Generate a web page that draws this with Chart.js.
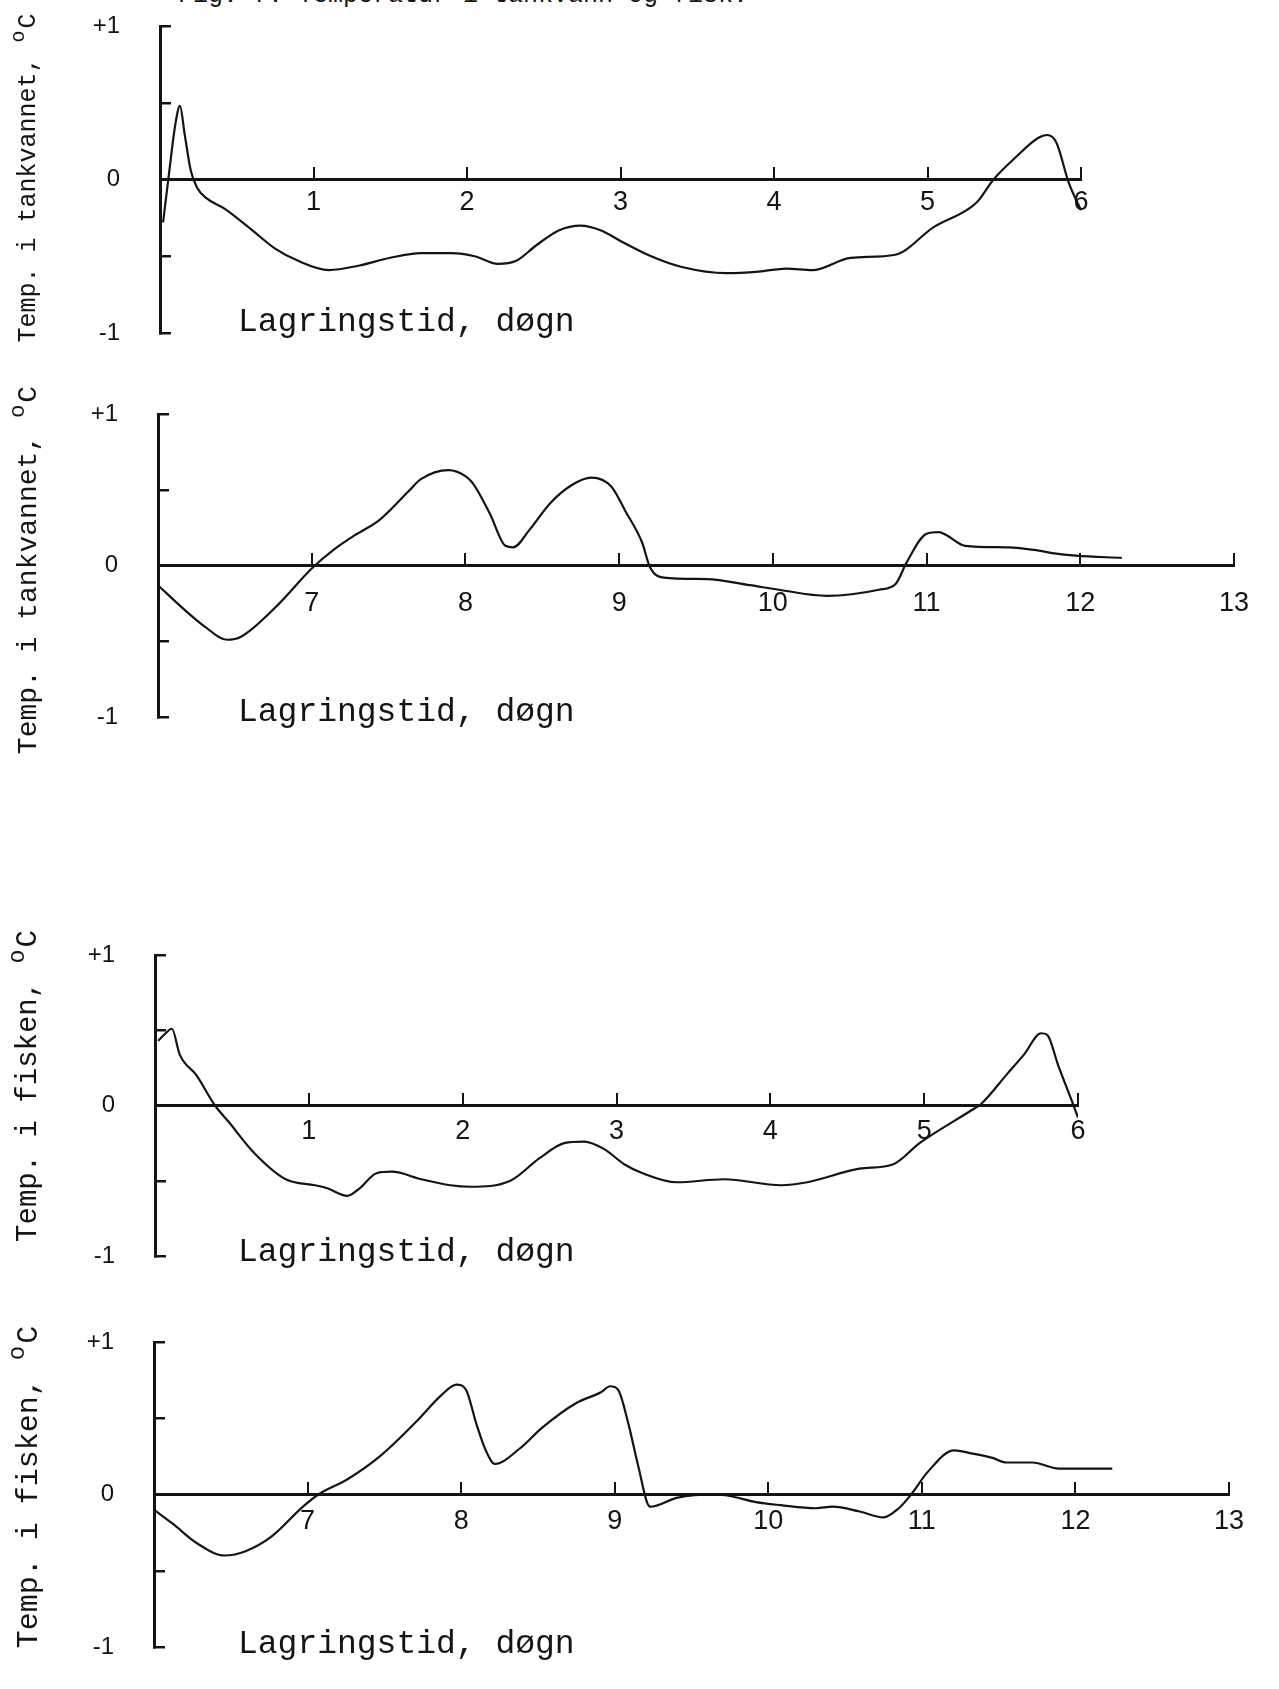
<!DOCTYPE html>
<html>
<head>
<meta charset="utf-8">
<title>Temperatur i tankvann og fisk</title>
<script src="https://cdn.jsdelivr.net/npm/chart.js@4/dist/chart.umd.min.js"></script>
<style>
  html, body { margin: 0; padding: 0; background: #fff; }
  #page { position: relative; width: 1279px; height: 1689px; overflow: hidden; background: #fff; }
  canvas { position: absolute; left: 0; }
  .mono { position: absolute; font-family: "Courier New", "Liberation Mono", monospace; color: #151515; white-space: nowrap; }
  .xtitle { font-size: 33px; line-height: 32px; left: 238px; }
  .ytitle { transform: translate(-50%, -50%) rotate(-90deg); line-height: 1; }
  .ytitle sup { font-size: 0.8em; vertical-align: 0.55em; margin-right: 2px; }
</style>
</head>
<body>
<div id="page">
  <div class="mono" style="left:178px; top:-17px; font-size:25px; line-height:25px;">Fig. 7. Temperatur i tankvann og fisk.</div>

  <canvas id="tank1"></canvas>
  <canvas id="tank2"></canvas>
  <canvas id="fisk1"></canvas>
  <canvas id="fisk2"></canvas>

  <!-- axis titles -->
  <div class="mono ytitle" style="left:25px; top:178px; font-size:25px;">Temp. i tankvannet, <sup>o</sup>C</div>
  <div class="mono ytitle" style="left:25px; top:570px; font-size:28px;">Temp. i tankvannet, <sup>o</sup>C</div>
  <div class="mono ytitle" style="left:25px; top:1086px; font-size:29px;">Temp. i fisken, <sup>o</sup>C</div>
  <div class="mono ytitle" style="left:25px; top:1487px; font-size:30px;">Temp. i fisken, <sup>o</sup>C</div>

  <div class="mono xtitle" style="top:307px;">Lagringstid, døgn</div>
  <div class="mono xtitle" style="top:697px;">Lagringstid, døgn</div>
  <div class="mono xtitle" style="top:1237px;">Lagringstid, døgn</div>
  <div class="mono xtitle" style="top:1629px;">Lagringstid, døgn</div>
</div>

<script>
// temperatur i tankvannet, dag 0-6
var tankDays1 = [0.02, 0.06, 0.10, 0.13, 0.16, 0.20, 0.24, 0.30, 0.42, 0.60, 0.75, 0.90, 1.10, 1.30, 1.50, 1.70, 1.90, 2.05, 2.20, 2.32, 2.45, 2.60, 2.74, 2.87, 3.00, 3.20, 3.40, 3.69, 3.90, 4.08, 4.25, 4.50, 4.79, 5.04, 5.32, 5.43, 5.58, 5.72, 5.78, 5.84, 5.92, 6.00];
var tankTemp1 = [-0.28, 0.05, 0.36, 0.48, 0.30, 0.06, -0.05, -0.12, -0.19, -0.33, -0.45, -0.53, -0.59, -0.56, -0.51, -0.48, -0.48, -0.50, -0.55, -0.53, -0.43, -0.33, -0.30, -0.33, -0.40, -0.50, -0.57, -0.61, -0.60, -0.58, -0.59, -0.51, -0.49, -0.31, -0.15, 0.00, 0.15, 0.27, 0.29, 0.24, -0.02, -0.20];

// temperatur i tankvannet, dag 6-13
var tankDays2 = [6.00, 6.17, 6.30, 6.45, 6.54, 6.78, 7.00, 7.15, 7.28, 7.44, 7.63, 7.71, 7.89, 8.00, 8.05, 8.16, 8.26, 8.31, 8.42, 8.55, 8.69, 8.82, 8.95, 9.04, 9.15, 9.20, 9.29, 9.57, 9.85, 10.04, 10.35, 10.69, 10.80, 10.87, 11.00, 11.08, 11.13, 11.25, 11.53, 11.72, 11.83, 11.97, 12.27];
var tankTemp2 = [-0.13, -0.29, -0.40, -0.49, -0.47, -0.26, -0.02, 0.11, 0.20, 0.30, 0.49, 0.57, 0.63, 0.59, 0.54, 0.34, 0.13, 0.12, 0.24, 0.41, 0.53, 0.58, 0.52, 0.36, 0.15, -0.01, -0.08, -0.09, -0.13, -0.16, -0.20, -0.16, -0.12, 0.02, 0.21, 0.22, 0.20, 0.13, 0.12, 0.10, 0.08, 0.065, 0.05];

// temperatur i fisken, dag 0-6
var fiskDays1 = [0.02, 0.06, 0.11, 0.16, 0.27, 0.39, 0.48, 0.64, 0.85, 1.04, 1.12, 1.25, 1.33, 1.44, 1.54, 1.73, 1.92, 2.05, 2.31, 2.50, 2.66, 2.79, 2.92, 3.05, 3.17, 3.39, 3.70, 4.07, 4.24, 4.58, 4.80, 4.97, 5.31, 5.37, 5.54, 5.65, 5.76, 5.80, 5.87, 5.96, 6.00];
var fiskTemp1 = [0.43, 0.47, 0.51, 0.34, 0.20, 0.00, -0.11, -0.31, -0.49, -0.53, -0.55, -0.60, -0.55, -0.45, -0.44, -0.49, -0.53, -0.54, -0.50, -0.35, -0.25, -0.24, -0.29, -0.39, -0.45, -0.51, -0.49, -0.53, -0.51, -0.42, -0.39, -0.25, -0.03, 0.01, 0.21, 0.34, 0.48, 0.47, 0.27, 0.03, -0.08];

// temperatur i fisken, dag 6-13
var fiskDays2 = [6.00, 6.12, 6.28, 6.46, 6.60, 6.76, 6.97, 7.07, 7.26, 7.47, 7.71, 7.87, 7.97, 8.03, 8.10, 8.16, 8.22, 8.38, 8.53, 8.75, 8.91, 8.97, 9.02, 9.09, 9.15, 9.23, 9.41, 9.66, 9.75, 9.92, 10.08, 10.31, 10.42, 10.59, 10.75, 10.85, 10.93, 11.04, 11.21, 11.32, 11.46, 11.55, 11.72, 11.89, 12.24];
var fiskTemp2 = [-0.10, -0.19, -0.32, -0.40, -0.37, -0.28, -0.08, 0.00, 0.10, 0.25, 0.48, 0.65, 0.72, 0.69, 0.46, 0.29, 0.20, 0.30, 0.44, 0.60, 0.67, 0.71, 0.69, 0.46, 0.20, -0.08, -0.02, 0.00, -0.01, -0.05, -0.07, -0.09, -0.08, -0.11, -0.15, -0.09, 0.00, 0.15, 0.29, 0.27, 0.24, 0.21, 0.21, 0.17, 0.17];

// y tick labels (only the ends and zero are written)
var yTickValues = [-1, 0, 1];
var yTickLabels = ['-1', '0', '+1'];

var ink = '#141414';
var fontFamily = '"Liberation Sans", Arial, sans-serif';

function makeChart(id, days, temps, dayMin, dayMax, box) {
    var padTop = 24, padBottom = 10, padRight = 30;
    var canvas = document.getElementById(id);
    canvas.width = box.right + padRight;
    canvas.height = (box.bottom - box.top) + padTop + padBottom;
    canvas.style.top = (box.top - padTop) + 'px';

    var points = days.map(function (d, i) { return { x: d, y: temps[i] }; });

    return new Chart(canvas.getContext('2d'), {
        type: 'line',
        data: {
            datasets: [{
                data: points,
                borderColor: ink,
                borderWidth: 2.2,
                pointRadius: 0,
                fill: false,
                cubicInterpolationMode: 'monotone'
            }]
        },
        options: {
            responsive: false,
            animation: false,
            devicePixelRatio: 1,
            layout: { padding: { top: padTop, right: padRight, bottom: padBottom, left: 0 } },
            plugins: { legend: { display: false }, tooltip: { enabled: false } },
            scales: {
                x: {
                    type: 'linear',
                    min: dayMin,
                    max: dayMax,
                    position: { y: 0 },
                    ticks: {
                        stepSize: 1,
                        autoSkip: false,
                        maxRotation: 0,
                        padding: box.labelPad,
                        color: ink,
                        font: { family: fontFamily, size: 27 },
                        callback: function (v) { return v === dayMin ? '' : String(v); }
                    },
                    grid: { drawOnChartArea: false, tickLength: -14, lineWidth: 2, color: ink },
                    border: { color: ink, width: 3 },
                    afterFit: function (s) { s.height = 0; s.paddingLeft = 0; s.paddingRight = 0; }
                },
                y: {
                    min: -1,
                    max: 1,
                    ticks: {
                        stepSize: 0.5,
                        padding: 51,
                        color: ink,
                        font: { family: fontFamily, size: 24 },
                        callback: function (v) {
                            var k = yTickValues.indexOf(v);
                            return k < 0 ? '' : yTickLabels[k];
                        }
                    },
                    grid: { drawOnChartArea: false, tickLength: -11, lineWidth: 2.5, color: ink },
                    border: { color: ink, width: 3 },
                    afterFit: function (s) { s.width = box.left; s.paddingTop = 0; s.paddingBottom = 0; }
                }
            }
        }
    });
}

var tankChart1 = makeChart('tank1', tankDays1, tankTemp1, 0, 6, { left: 160, right: 1081, top: 26, bottom: 333, labelPad: 21 });
var tankChart2 = makeChart('tank2', tankDays2, tankTemp2, 6, 13, { left: 158, right: 1234, top: 414, bottom: 717, labelPad: 36 });
var fiskChart1 = makeChart('fisk1', fiskDays1, fiskTemp1, 0, 6, { left: 155, right: 1078, top: 955, bottom: 1256, labelPad: 24 });
var fiskChart2 = makeChart('fisk2', fiskDays2, fiskTemp2, 6, 13, { left: 154, right: 1229, top: 1342, bottom: 1647, labelPad: 25 });
</script>
</body>
</html>
